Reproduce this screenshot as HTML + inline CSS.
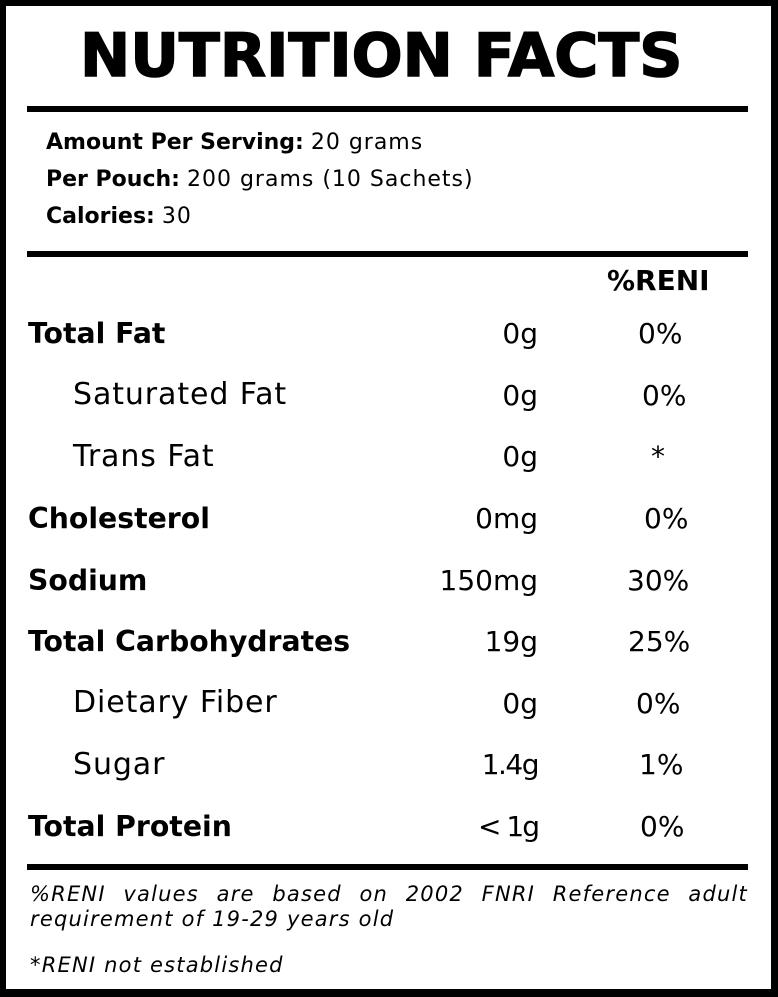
<!DOCTYPE html>
<html>
<head>
<meta charset="utf-8">
<style>
  html, body { margin:0; padding:0; background:#fff; }
  body { width:778px; height:997px; position:relative; overflow:hidden; }
  .frame { position:absolute; left:0; top:0; width:778px; height:997px; box-sizing:border-box;
           border-top:6px solid #000; border-left:6px solid #000; border-right:7px solid #000; border-bottom:8px solid #000; }
  .rule { position:absolute; left:27px; width:721px; height:6px; background:#000; }
  .t { position:absolute; white-space:nowrap; line-height:1; color:#000;
       font-family:"DejaVu Sans","Liberation Sans",sans-serif; }
  .title { font-weight:bold; font-size:60px; left:80px; top:26px; -webkit-text-stroke:1.5px #000; }
  .hd { font-size:22px; left:46px; }
  .hd b { font-weight:bold; }
  .hd span { letter-spacing:1px; }
  .bl { font-weight:bold; font-size:28.3px; left:28px; }
  .rl { font-size:30px; left:73px; letter-spacing:0.9px; }
  .v { font-size:28px; right:240px; text-align:right; }
  .p { font-size:28px; }
  .f { font-style:italic; font-size:21px; letter-spacing:1.2px; }
</style>
</head>
<body>
<div class="frame"></div>

<div class="t title">NUTRITION FACTS</div>
<div class="rule" style="top:106px"></div>

<div class="t hd" style="top:132px"><b>Amount Per Serving:</b> <span>20 grams</span></div>
<div class="t hd" style="top:169px"><b>Per Pouch:</b> <span>200 grams (10 Sachets)</span></div>
<div class="t hd" style="top:206px"><b>Calories:</b> <span>30</span></div>

<div class="rule" style="top:251px"></div>

<div class="t p" style="left:607px; top:267px; font-weight:bold;">%RENI</div>

<!-- Row 0 -->
<div class="t bl" style="top:320px">Total Fat</div>
<div class="t v" style="top:320px">0g</div>
<div class="t p" style="left:638px; top:320px">0%</div>

<!-- Row 1 -->
<div class="t rl" style="top:380px">Saturated Fat</div>
<div class="t v" style="top:382px">0g</div>
<div class="t p" style="left:642px; top:382px">0%</div>

<!-- Row 2 -->
<div class="t rl" style="top:442px">Trans Fat</div>
<div class="t v" style="top:443px">0g</div>
<div class="t p" style="left:651px; top:443px">*</div>

<!-- Row 3 -->
<div class="t bl" style="top:505px">Cholesterol</div>
<div class="t v" style="top:505px">0mg</div>
<div class="t p" style="left:644px; top:505px">0%</div>

<!-- Row 4 -->
<div class="t bl" style="top:567px">Sodium</div>
<div class="t v" style="top:567px">150mg</div>
<div class="t p" style="left:627px; top:567px">30%</div>

<!-- Row 5 -->
<div class="t bl" style="top:628px">Total Carbohydrates</div>
<div class="t v" style="top:628px">19g</div>
<div class="t p" style="left:628px; top:628px">25%</div>

<!-- Row 6 -->
<div class="t rl" style="top:688px">Dietary Fiber</div>
<div class="t v" style="top:690px">0g</div>
<div class="t p" style="left:636px; top:690px">0%</div>

<!-- Row 7 -->
<div class="t rl" style="top:750px">Sugar</div>
<div class="t v" style="top:751px; letter-spacing:-1.5px;">1.4g</div>
<div class="t p" style="left:639px; top:751px">1%</div>

<!-- Row 8 -->
<div class="t bl" style="top:813px">Total Protein</div>
<div class="t v" style="top:813px; letter-spacing:-2px;">&lt; 1g</div>
<div class="t p" style="left:640px; top:813px">0%</div>

<div class="rule" style="top:864px"></div>

<div class="t f" style="left:30px; width:718px; top:884px; text-align:justify; text-align-last:justify; white-space:normal;">%RENI values are based on 2002 FNRI Reference adult</div>
<div class="t f" style="left:30px; top:909px;">requirement of 19-29 years old</div>
<div class="t f" style="left:30px; top:955px;">*RENI not established</div>
</body>
</html>
